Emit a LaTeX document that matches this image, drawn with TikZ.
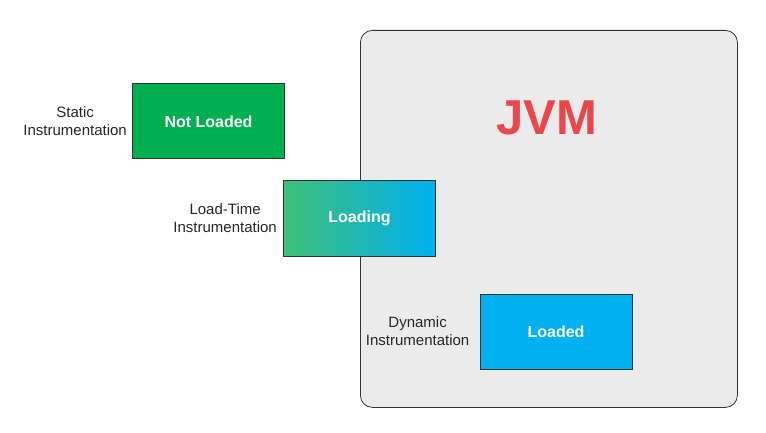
\documentclass[tikz,border=0pt]{standalone}
\usepackage{fontspec}
\setmainfont{Liberation Sans}
\usetikzlibrary{positioning}
\definecolor{boxedge}{HTML}{333333}
\definecolor{jvmgray}{HTML}{EBEBEB}
\definecolor{jvmred}{HTML}{E8474C}
\definecolor{stgreen}{HTML}{00B050}
\definecolor{stblue}{HTML}{00B0F0}
\definecolor{mixgreen}{HTML}{40BF78}
\tikzset{
	state/.style={draw=boxedge, line width=1pt, minimum width=152pt, minimum height=75pt,
		font=\fontsize{16}{16}\selectfont\bfseries, text=white},
	instr/.style={align=center, inner sep=0pt, text=black!85,
		font=\fontsize{15}{18}\selectfont},
}
\begin{document}
\begin{tikzpicture}[x=1pt,y=-1pt]
	\useasboundingbox (0,0) rectangle (766,433);
	
	\node [draw=boxedge, fill=jvmgray, line width=0.8pt, rounded corners=12pt,
		minimum width=377pt, minimum height=377pt, anchor=north west] (jvm) at (360,30) {};
	\node [text=jvmred, font=\fontsize{49}{49}\selectfont\bfseries] (jvmname) at (547,118) {JVM};
	
	\node [state, fill=stgreen] (notloaded) at (208.5,121.5) {Not Loaded};
	\node [state, left color=mixgreen, right color=stblue] (loading) at (359.5,218.5) {Loading};
	\node [state, fill=stblue] (loaded) at (556,331.5) {Loaded};
	
	\node [instr, left=5pt of notloaded] (static) {Static\\Instrumentation};
	\node [instr, left=6pt of loading] (loadtime) {Load-Time\\Instrumentation};
	\node [instr, left=10pt of loaded] (dynamic) {Dynamic\\Instrumentation};
\end{tikzpicture}
\end{document}
